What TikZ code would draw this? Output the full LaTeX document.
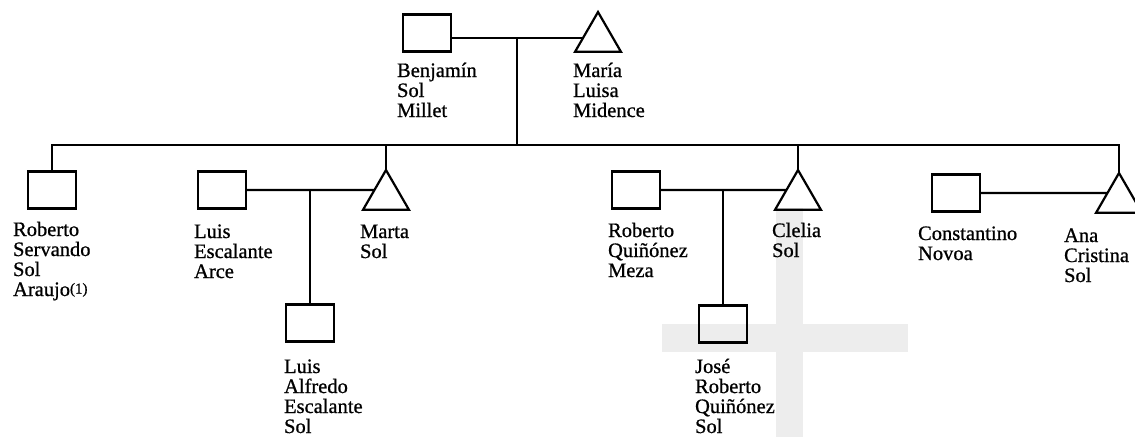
\documentclass[tikz,border=0pt]{standalone}
\usepackage{fontspec}
\setmainfont{Liberation Serif}[FakeBold=0.8]
\usetikzlibrary{shapes.geometric}

\begin{document}
\begin{tikzpicture}[x=1pt,y=-1pt,line width=2.2pt,
		male/.style={draw,rectangle,minimum width=48pt,minimum height=37pt,inner sep=0pt,outer sep=0pt},
		female/.style={draw,regular polygon,regular polygon sides=3,minimum size=53.1pt,inner sep=0pt,outer sep=0pt},
		who/.style={anchor=base west,align=left,inner sep=0pt,font=\fontsize{20.5}{20}\selectfont}]
	\useasboundingbox (0,0) rectangle (1135,437);
	% grey stain of the scan
	\fill[black!7] (776,208) rectangle (803,437);
	\fill[black!7] (662,324) rectangle (908,352);
	% parents
	\node[male] (benjamin) at (427,33) {};
	\node[female] (maria) at (598,38.56) {};
	\path (maria.corner 1) -- (maria.corner 2) coordinate[pos=0.65] (mariaL);
	\draw (benjamin.east |- mariaL) -- coordinate (top) (mariaL);
	\coordinate (bar) at (0,145);
	% children
	\node[male] (roberto) at (52,190) {};
	\node[male] (luis) at (222,190) {};
	\node[female] (marta) at (386,196.56) {};
	\node[male] (robertoq) at (636,190) {};
	\node[female] (clelia) at (798,196.56) {};
	\node[male] (constantino) at (956,193) {};
	\node[female] (ana) at (1119,199.56) {};
	\draw (top) -- (top |- bar);
	\draw (roberto.north) |- (bar -| ana.corner 1) -- (ana.corner 1);
	\draw (marta.corner 1) -- (marta.corner 1 |- bar);
	\draw (clelia.corner 1) -- (clelia.corner 1 |- bar);
	% grandchildren
	\node[male] (luisalfredo) at (310,323) {};
	\node[male] (jose) at (723,324) {};
	\draw (luis.east) -- coordinate (luismarta) (marta.side 1);
	\draw (luismarta) -- (luismarta |- luisalfredo.north);
	\draw (robertoq.east) -- coordinate (robertoclelia) (clelia.side 1);
	\draw (robertoclelia) -- (robertoclelia |- jose.north);
	\draw (constantino.east) -- (ana.side 1);
	% names (placed by the baseline of their last line)
	\node[who] (benjaminname) at (396,117) {Benjamín\\Sol\\Millet};
	\node[who] (marianame) at (572,117) {María\\Luisa\\Midence};
	\node[who] (robertoname) at (12,296) {Roberto\\Servando\\Sol\\Araujo{\fontsize{15}{15}\selectfont\raisebox{2.5pt}{(1)}}};
	\node[who] (luisname) at (193,278) {Luis\\Escalante\\Arce};
	\node[who] (martaname) at (359,258) {Marta\\Sol};
	\node[who] (luisalfredoname) at (283,433) {Luis\\Alfredo\\Escalante\\Sol};
	\node[who] (robertoqname) at (607,277) {Roberto\\Quiñónez\\Meza};
	\node[who] (clelianame) at (771,257) {Clelia\\Sol};
	\node[who] (josename) at (694,433) {José\\Roberto\\Quiñónez\\Sol};
	\node[who] (constantinoname) at (917,260) {Constantino\\Novoa};
	\node[who] (ananame) at (1063,282) {Ana\\Cristina\\Sol};
\end{tikzpicture}
\end{document}
